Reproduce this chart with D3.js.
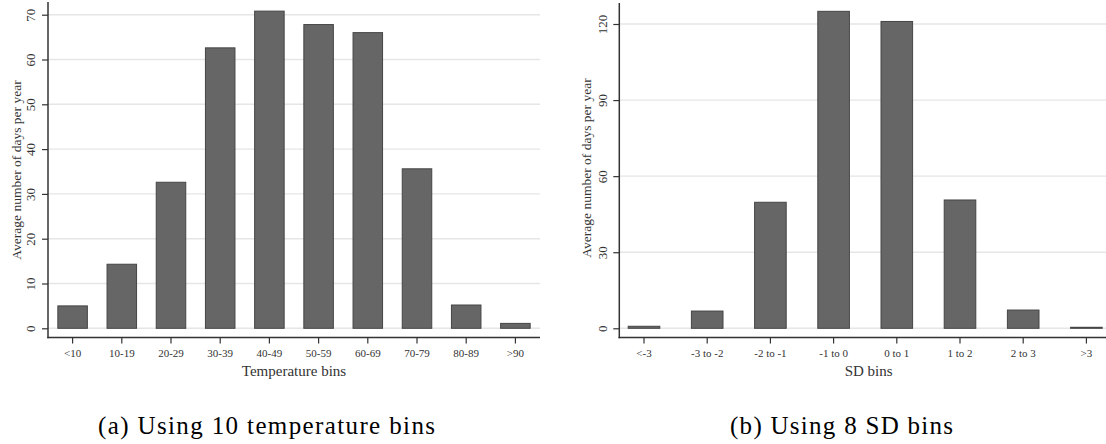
<!DOCTYPE html>
<html>
<head>
<meta charset="utf-8">
<script src="https://cdn.jsdelivr.net/npm/d3@7/dist/d3.min.js"></script>
<style>
  html, body { margin: 0; padding: 0; background: #fff; }
  svg { display: block; }
  svg text { font-family: "Liberation Serif", serif; }
</style>
</head>
<body>
<svg id="chart" width="1106" height="444"></svg>
<script>
// ---- data ----
const tempBins = ["<10", "10-19", "20-29", "30-39", "40-49", "50-59", "60-69", "70-79", "80-89", ">90"];
const tempDays = [5.0, 14.3, 32.6, 62.6, 70.8, 67.8, 66.0, 35.6, 5.2, 1.1];
const tempTicks = [0, 10, 20, 30, 40, 50, 60, 70];

const sdBins = ["<-3", "-3 to -2", "-2 to -1", "-1 to 0", "0 to 1", "1 to 2", "2 to 3", ">3"];
const sdDays = [0.8, 6.8, 49.7, 125.0, 121.0, 50.6, 7.2, 0.4];
const sdTicks = [0, 30, 60, 90, 120];

const yTitle = "Average number of days per year";
const xTitleL = "Temperature bins";
const xTitleR = "SD bins";
const captionL = "(a) Using 10 temperature bins";
const captionR = "(b) Using 8 SD bins";

const svg = d3.select("#chart");

function panel(cfg) {
  const g = svg.append("g");
  const x = d3.scaleBand().domain(cfg.cats).range(cfg.xRange)
    .paddingInner(cfg.padIn).paddingOuter(cfg.padOut);
  const y = d3.scaleLinear().domain(cfg.yDomain).range(cfg.yRange);

  // gridlines
  g.append("g").selectAll("line").data(cfg.ticks).join("line")
    .attr("x1", cfg.axisX).attr("x2", cfg.gridEnd)
    .attr("y1", d => y(d)).attr("y2", d => y(d))
    .attr("stroke", "#e6e6e6").attr("stroke-width", 1.4);

  // bars
  g.append("g").selectAll("rect").data(cfg.values).join("rect")
    .attr("x", (d, i) => x(cfg.cats[i]))
    .attr("width", x.bandwidth())
    .attr("y", d => y(d))
    .attr("height", d => y(0) - y(d))
    .attr("fill", "#666666")
    .attr("stroke", "#454545")
    .attr("stroke-width", 1);

  // y axis
  const ya = g.append("g").attr("transform", `translate(${cfg.axisX},0)`)
    .call(d3.axisLeft(y).tickValues(cfg.ticks).tickSize(6).tickFormat(d3.format("d")));
  ya.attr("font-family", null);
  ya.select(".domain").remove();
  ya.selectAll(".tick line").attr("stroke", "#333").attr("stroke-width", 1.2);
  ya.selectAll(".tick text")
    .attr("transform", "rotate(-90)")
    .attr("x", 0).attr("y", cfg.yLabOff).attr("dy", 0)
    .attr("text-anchor", "middle")
    .attr("font-size", 13).attr("fill", "#333");
  g.append("line").attr("x1", cfg.axisX).attr("x2", cfg.axisX)
    .attr("y1", cfg.axisTop).attr("y2", cfg.axisY + 0.75)
    .attr("stroke", "#333").attr("stroke-width", 1.5);

  // x axis
  const xa = g.append("g").attr("transform", `translate(0,${cfg.axisY})`)
    .call(d3.axisBottom(x).tickSize(6).tickSizeOuter(0));
  xa.attr("font-family", null);
  xa.select(".domain").remove();
  xa.selectAll(".tick line").attr("stroke", "#333").attr("stroke-width", 1.2);
  xa.selectAll(".tick text")
    .attr("y", 0).attr("dy", 0).attr("transform", "translate(0,19.5)")
    .attr("font-size", 11).attr("fill", "#333");
  g.append("line").attr("x1", cfg.axisX - 0.75).attr("x2", cfg.gridEnd)
    .attr("y1", cfg.axisY).attr("y2", cfg.axisY)
    .attr("stroke", "#333").attr("stroke-width", 1.5);

  // titles
  g.append("text")
    .attr("transform", `translate(${cfg.yTitleX},${cfg.yTitleY}) rotate(-90)`)
    .attr("text-anchor", "middle")
    .attr("font-size", 13.5).attr("fill", "#333")
    .text(yTitle);
  g.append("text")
    .attr("x", (cfg.axisX + cfg.xTitleEnd) / 2).attr("y", 376)
    .attr("text-anchor", "middle")
    .attr("font-size", 15).attr("fill", "#333")
    .text(cfg.xTitle);

  // caption
  g.append("text")
    .attr("x", cfg.capX).attr("y", 434)
    .attr("font-size", 25).attr("fill", "#000")
    .attr("textLength", cfg.capLen).attr("lengthAdjust", "spacing")
    .text(cfg.caption);
}

panel({
  cats: tempBins, values: tempDays, ticks: tempTicks,
  xRange: [48, 540], padIn: 0.4, padOut: 0.2,
  yDomain: [0, 70], yRange: [328.3, 14.7],
  axisX: 48, axisY: 337.5, axisTop: 2, gridEnd: 540,
  yLabOff: -13, yTitleX: 21, yTitleY: 170,
  xTitle: xTitleL, xTitleEnd: 540,
  caption: captionL, capX: 98, capLen: 337
});

panel({
  cats: sdBins, values: sdDays, ticks: sdTicks,
  xRange: [612.4, 1118], padIn: 0.5, padOut: 0.25,
  yDomain: [0, 120], yRange: [328.3, 24],
  axisX: 619.3, axisY: 337.5, axisTop: 3, gridEnd: 1106,
  yLabOff: -12.3, yTitleX: 591, yTitleY: 168,
  xTitle: xTitleR, xTitleEnd: 1118,
  caption: captionR, capX: 730, capLen: 223
});
</script>
</body>
</html>
